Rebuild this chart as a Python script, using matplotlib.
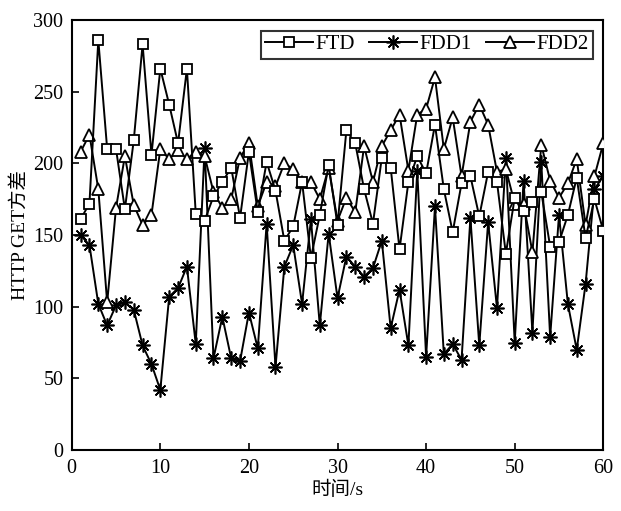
import matplotlib
matplotlib.use("Agg")
import matplotlib.pyplot as plt
import numpy as np

t = list(range(1, 61))

ftd = [161, 172, 286, 210, 210, 168, 216, 283, 206, 266,
       241, 214, 266, 165, 160, 177, 187, 197, 162, 208,
       166, 201, 181, 146, 156, 187, 134, 164, 199, 157,
       223, 214, 182, 158, 204, 197, 140, 187, 205, 193,
       227, 182, 152, 186, 191, 163, 194, 187, 137, 176,
       167, 173, 180, 142, 145, 164, 190, 148, 175, 153]

fdd1 = [150, 143, 102, 87, 101, 103, 98, 73, 60, 42,
        107, 113, 128, 74, 211, 64, 93, 64, 62, 96,
        71, 158, 58, 128, 143, 102, 161, 87, 151, 106,
        135, 128, 121, 127, 146, 85, 112, 73, 195, 65,
        170, 67, 74, 63, 162, 73, 159, 99, 204, 75,
        188, 82, 201, 79, 164, 102, 70, 116, 182, 191]

fdd2 = [208, 220, 182, 103, 169, 205, 171, 157, 164, 210,
        203, 209, 203, 208, 205, 180, 169, 175, 204, 214,
        170, 187, 184, 200, 196, 187, 187, 175, 197, 160,
        176, 166, 212, 187, 212, 223, 234, 195, 234, 238,
        260, 210, 232, 191, 229, 241, 227, 194, 196, 172,
        172, 138, 213, 188, 176, 186, 203, 157, 191, 214]

series_names = ["FTD", "FDD1", "FDD2"]
x_label = "时间/s"
y_label = "HTTP GET方差"
x_ticks = [0, 10, 20, 30, 40, 50, 60]
y_ticks = [0, 50, 100, 150, 200, 250, 300]

fam = ["Liberation Serif", "Noto Sans CJK SC", "DejaVu Sans"]
plt.rcParams["font.family"] = fam

fig = plt.figure(figsize=(6.21, 5.11), dpi=100)
ax = fig.add_axes([0.1155, 0.119, 0.856, 0.842])

lw = 1.4
ax.plot(t, fdd1, color="black", lw=lw, marker=(8, 2, 0), markersize=10,
        markeredgewidth=1.2, label=series_names[1], zorder=3)
ax.plot(t, fdd2, color="black", lw=lw, marker="^", markersize=8.5,
        markerfacecolor="white", markeredgewidth=1.3, label=series_names[2], zorder=4)
ax.plot(t, ftd, color="black", lw=lw, marker="s", markersize=7.5,
        markerfacecolor="white", markeredgewidth=1.3, label=series_names[0], zorder=5)

ax.set_xlim(0, 60)
ax.set_ylim(0, 300)
ax.set_xticks(x_ticks)
ax.set_yticks(y_ticks)
ax.tick_params(direction="in", length=5, width=1.2, labelsize=14.5,
               top=False, right=False, pad=6)
for s in ax.spines.values():
    s.set_linewidth(1.5)

ax.set_xlabel(x_label, fontsize=14, labelpad=2)
ax.set_ylabel(y_label, fontsize=14, labelpad=3)

h, l = ax.get_legend_handles_labels()
order = [2, 0, 1]
leg = ax.legend([h[i] for i in order], [l[i] for i in order], ncol=3,
                loc="upper right", bbox_to_anchor=(0.98, 0.975),
                fontsize=15, frameon=True, fancybox=False, edgecolor="black",
                handlelength=2.3, handletextpad=0.1, columnspacing=0.7,
                borderpad=0.2, borderaxespad=0.0)
leg.get_frame().set_linewidth(1.5)

fig.savefig("out.png", dpi=100)
